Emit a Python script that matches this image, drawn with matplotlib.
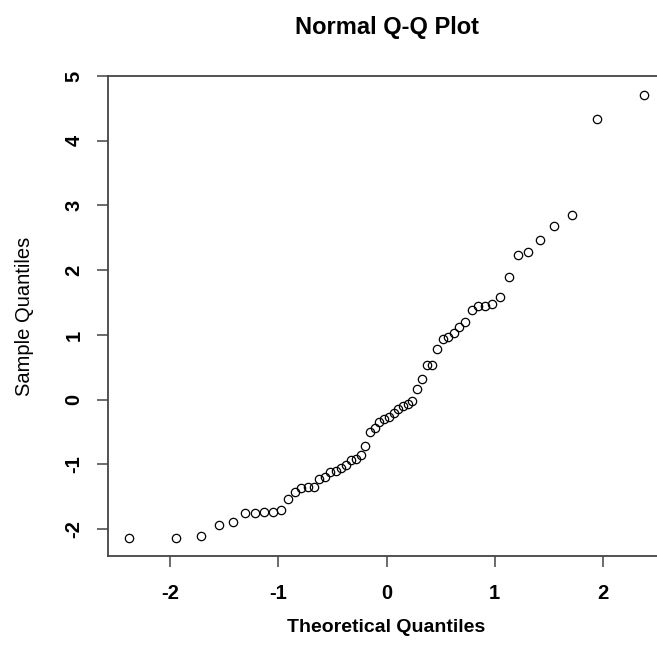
import statistics
import matplotlib
matplotlib.use("Agg")
import matplotlib.pyplot as plt

# sorted sample values (58 points)
sample_quantiles = [
    -2.14, -2.14, -2.11, -1.93, -1.89, -1.75, -1.75, -1.73, -1.73, -1.70,
    -1.54, -1.42, -1.36, -1.345, -1.345, -1.22, -1.20, -1.11, -1.10, -1.05,
    -1.01, -0.93, -0.91, -0.85, -0.71, -0.505, -0.43, -0.35, -0.30, -0.26,
    -0.20, -0.15, -0.10, -0.06, -0.02, 0.16, 0.32, 0.53, 0.54, 0.78,
    0.94, 0.97, 1.03, 1.13, 1.20, 1.38, 1.44, 1.45, 1.48, 1.59,
    1.89, 2.24, 2.28, 2.47, 2.69, 2.855, 4.34, 4.71,
]
y_ticks = [-2, -1, 0, 1, 2, 3, 4, 5]
x_ticks = [-2, -1, 0, 1, 2]

# theoretical quantiles as qqnorm does it: ppoints(n) with a = 0.5
n = len(sample_quantiles)
nd = statistics.NormalDist()
theoretical = [nd.inv_cdf((i + 0.5) / n) for i in range(n)]

plt.rcParams['font.family'] = ['Liberation Sans', 'DejaVu Sans']

fig = plt.figure(figsize=(6.57, 6.54), dpi=100)
ax = fig.add_axes([0.1648, 0.1498, 0.847, 0.734])

ax.plot(theoretical, sample_quantiles, 'o', mfc='none', mec='black',
        ms=6, mew=0.9, linestyle='none')
ax.margins(0.04)

ax.set_xticks(x_ticks)
ax.set_yticks(y_ticks)
ax.set_xticklabels([str(v) for v in x_ticks], fontsize=14.5, fontweight='bold')
ax.set_yticklabels([str(v) for v in y_ticks], fontsize=14.5, fontweight='bold',
                   rotation=90, va='center')
ax.tick_params(axis='x', length=8, width=1.1, color='#444444', pad=12)
ax.tick_params(axis='y', length=8, width=1.1, color='#444444', pad=10)

for sp in ax.spines.values():
    sp.set_color('#444444')
    sp.set_linewidth(1.3)

ax.set_xlabel('Theoretical Quantiles', fontsize=14, fontweight='bold',
              labelpad=12)
ax.set_ylabel('Sample Quantiles', fontsize=14.5, labelpad=22)
ax.set_title('Normal Q-Q Plot', fontsize=17, fontweight='bold', pad=30)

fig.savefig('out.png', dpi=100)
